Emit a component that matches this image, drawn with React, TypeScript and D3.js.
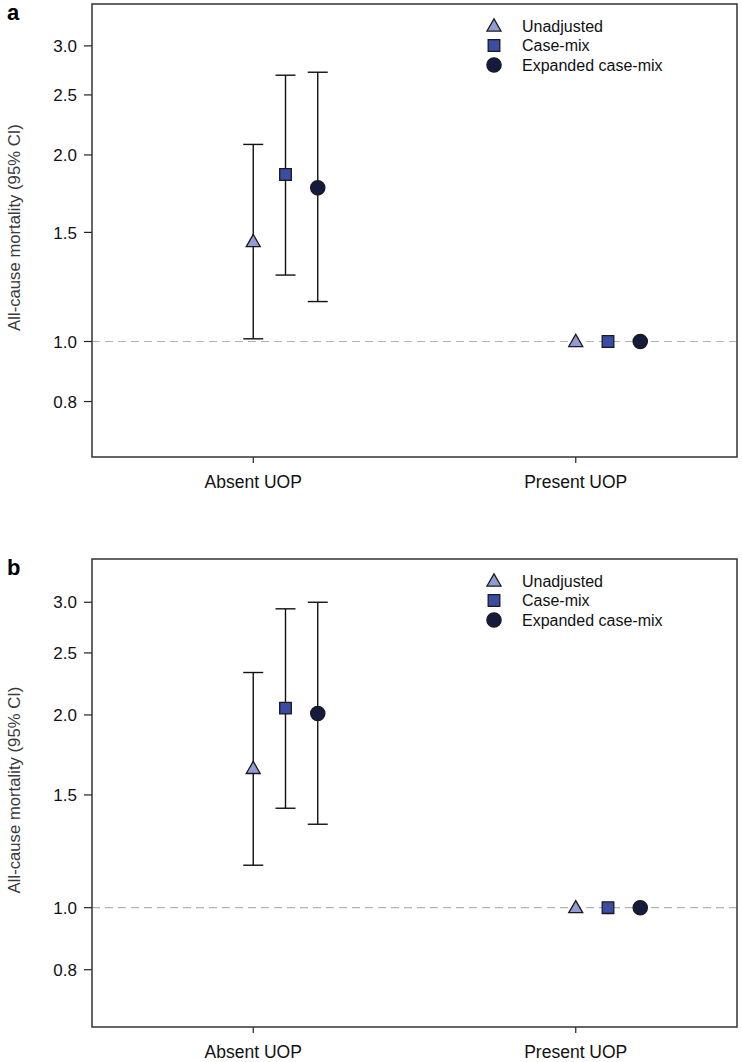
import React, { useEffect, useRef } from "react";
import * as d3 from "d3";

const groups = ["Absent UOP", "Present UOP"];
const models = ["Unadjusted", "Case-mix", "Expanded case-mix"];
const yTicks = [0.8, 1.0, 1.5, 2.0, 2.5, 3.0];

// panel a: hazard ratio, lower and upper 95% CI, per model, for "Absent UOP"
const aEstimate = [1.45, 1.86, 1.77];
const aLower = [1.01, 1.28, 1.16];
const aUpper = [2.08, 2.69, 2.72];

// panel b
const bEstimate = [1.65, 2.05, 2.01];
const bLower = [1.165, 1.43, 1.35];
const bUpper = [2.33, 2.93, 3.0];

// "Present UOP" is the reference group
const refValue = 1.0;

const fills = ["#8f9cd6", "#3a4ca3", "#151b3d"];
const shapes = [d3.symbolTriangle, d3.symbolSquare, d3.symbolCircle];
const shapeSizes = [85, 135, 160];

const W = 742;
const H = 1062;
const font = "'Liberation Sans', Arial, sans-serif";

function drawPanel(svg, top, bottom, letter, est, lo, hi) {
  const left = 92;
  const right = 737;

  const x = d3.scaleLinear().domain([0, 4]).range([left, right]);
  const y = d3.scaleLog().domain([0.651, 3.505]).range([bottom, top]);

  const g = svg.append("g");

  g.append("text")
    .attr("x", 7)
    .attr("y", top + 16)
    .attr("font-family", font)
    .attr("font-weight", "bold")
    .attr("font-size", 22)
    .text(letter);

  // reference line at 1
  g.append("line")
    .attr("x1", left)
    .attr("x2", right)
    .attr("y1", y(refValue))
    .attr("y2", y(refValue))
    .attr("stroke", "#b3b3b3")
    .attr("stroke-width", 1.2)
    .attr("stroke-dasharray", "8,5");

  // y axis ticks
  const yAxis = g.append("g");
  yTicks.forEach((t) => {
    yAxis
      .append("line")
      .attr("x1", left - 8)
      .attr("x2", left)
      .attr("y1", y(t))
      .attr("y2", y(t))
      .attr("stroke", "#222")
      .attr("stroke-width", 1.2);
    yAxis
      .append("text")
      .attr("x", left - 15)
      .attr("y", y(t))
      .attr("dy", "0.36em")
      .attr("text-anchor", "end")
      .attr("font-family", font)
      .attr("font-size", 17)
      .attr("fill", "#111")
      .text(d3.format(".1f")(t));
  });

  g.append("text")
    .attr("transform", `translate(20,${(top + bottom) / 2 - 3}) rotate(-90)`)
    .attr("text-anchor", "middle")
    .attr("font-family", font)
    .attr("font-size", 16.7)
    .attr("fill", "#3a3a3a")
    .text("All-cause mortality (95% CI)");

  // x ticks
  groups.forEach((name, i) => {
    const cx = x(1 + i * 2);
    g.append("line")
      .attr("x1", cx)
      .attr("x2", cx)
      .attr("y1", bottom)
      .attr("y2", bottom + 6)
      .attr("stroke", "#222")
      .attr("stroke-width", 1.2);
    g.append("text")
      .attr("x", cx)
      .attr("y", bottom + 31)
      .attr("text-anchor", "middle")
      .attr("font-family", font)
      .attr("font-size", 17.5)
      .attr("fill", "#111")
      .text(name);
  });

  // error bars, absent group
  models.forEach((m, i) => {
    const cx = x(1 + i * 0.2);
    g.append("line")
      .attr("x1", cx)
      .attr("x2", cx)
      .attr("y1", y(lo[i]))
      .attr("y2", y(hi[i]))
      .attr("stroke", "#111")
      .attr("stroke-width", 1.4);
    [lo[i], hi[i]].forEach((v) => {
      g.append("line")
        .attr("x1", cx - 10)
        .attr("x2", cx + 10)
        .attr("y1", y(v))
        .attr("y2", y(v))
        .attr("stroke", "#111")
        .attr("stroke-width", 1.4);
    });
  });

  const marker = (cx, cy, i) => {
    g.append("path")
      .attr("d", d3.symbol().type(shapes[i]).size(shapeSizes[i])())
      .attr("transform", `translate(${cx},${cy + (i === 0 ? 1 : 0)})`)
      .attr("fill", fills[i])
      .attr("stroke", "#1a1a1a")
      .attr("stroke-width", 1.3);
  };

  models.forEach((m, i) => {
    marker(x(1 + i * 0.2), y(est[i]), i);
    marker(x(3 + i * 0.2), y(refValue), i);
  });

  // legend
  models.forEach((m, i) => {
    const ly = top + 22 + i * 19.5;
    marker(494, ly, i);
    g.append("text")
      .attr("x", 522)
      .attr("y", ly)
      .attr("dy", "0.36em")
      .attr("font-family", font)
      .attr("font-size", 16)
      .attr("fill", "#111")
      .text(m);
  });

  // frame
  g.append("rect")
    .attr("x", left)
    .attr("y", top)
    .attr("width", right - left)
    .attr("height", bottom - top)
    .attr("fill", "none")
    .attr("stroke", "#333")
    .attr("stroke-width", 1.5);
}

export default function App() {
  const ref = useRef(null);

  useEffect(() => {
    const svg = d3.select(ref.current);
    svg.selectAll("*").remove();
    drawPanel(svg, 4, 457, "a", aEstimate, aLower, aUpper);
    drawPanel(svg, 559, 1027, "b", bEstimate, bLower, bUpper);
  }, []);

  return (
    <svg
      ref={ref}
      width={W}
      height={H}
      style={{ position: "absolute", left: 0, top: 0, background: "#fff" }}
    />
  );
}
